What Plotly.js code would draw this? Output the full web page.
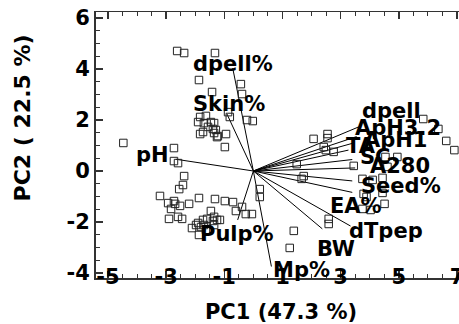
<!DOCTYPE html>
<html>
<head>
<meta charset="utf-8">
<script src="https://cdn.plot.ly/plotly-3.0.1.min.js"></script>
<style>
html,body{margin:0;padding:0;overflow:hidden;background:#fff;width:459px;height:324px;}
#chart{width:466px;height:324px;}
</style>
</head>
<body>
<div id="chart"></div>
<script>
// ---- Scores (observations) ----
const scoreX = [-2.62,-2.38,-1.32,-1.87,-0.43,-1.42,-0.39,-4.47,-2.73,-0.87,
  -0.81,-0.22,-0.02,-1.83,-1.63,-1.90,-1.70,-1.46,-1.35,-1.56,
  -1.39,-1.29,-1.73,-1.83,-1.35,-1.22,-0.94,-1.25,-0.98,-2.73,
  -2.59,-2.38,-2.42,-2.55,-3.21,-2.93,-2.73,-2.69,-2.83,-2.52,
  -2.21,-1.87,-2.90,-2.59,-2.45,-1.32,-0.98,-0.70,-0.60,-0.39,
  -0.26,-0.05,-1.46,-1.73,-1.59,-1.35,-1.25,-1.39,-1.90,-2.11,
  -1.97,-1.80,-1.87,-1.63,-1.15,-1.70,-1.35,0.22,0.22,2.07,
  2.55,2.55,2.42,2.49,2.76,5.84,6.36,6.63,6.91,4.54,
  4.95,1.49,3.45,4.61,1.73,1.66,3.75,4.10,4.44,3.79,
  3.89,4.44,4.51,3.75,4.03,2.59,2.59,1.39,1.25];
const scoreY = [4.71,4.63,4.63,3.57,3.41,3.10,3.02,1.10,0.90,2.31,
  2.12,2.00,1.96,2.12,2.16,1.92,1.88,1.92,1.88,1.73,
  1.65,1.61,1.53,1.45,1.49,1.37,1.45,1.33,0.94,0.39,
  0.31,-0.20,-0.55,-0.71,-0.98,-1.26,-1.18,-1.29,-1.49,-1.37,
  -1.29,-1.06,-1.88,-1.80,-1.88,-1.10,-1.18,-1.22,-1.57,-1.41,
  -1.69,-1.69,-1.57,-1.92,-1.88,-1.80,-1.92,-1.96,-2.04,-2.24,
  -2.12,-2.20,-2.51,-2.31,-1.92,-2.12,-2.12,-0.71,-1.02,1.26,
  1.45,1.29,0.94,0.82,0.75,2.04,1.65,1.18,0.82,0.55,
  0.55,0.27,0.20,0.16,-0.20,-0.31,-0.31,-0.35,-0.27,-0.90,
  -1.02,-0.86,-1.29,-1.49,-1.53,-1.88,-2.08,-2.35,-3.02];

// ---- Loadings (variables) ----
const varNames = ["dpell%","Skin%","pH","Pulp%","Mp%","BW","dTpep","EA%","Seed%","A280","SC","TA","ApH1","ApH3.2","dpell"];
const loadX = [-0.71,-0.91,-2.66,-0.54,0.62,2.37,3.34,3.40,3.40,3.50,3.40,3.27,3.45,3.55,3.62];
const loadY = [4.04,2.24,0.46,-1.92,-3.75,-2.27,-2.16,-0.84,-0.39,0.12,0.45,0.82,1.10,1.35,1.73];

// ---- Axis tick labels ----
const xTicks = [-5,-3,-1,1,3,5,7];
const yTicks = [-4,-2,0,2,4,6];

// label pixel offsets (style): [dx right, dy down]
const labelOffsets = [[0,-4],[2,-10],[-23,-4],[-1,14],[30,3],[14,20],[35,5],[4,14],[49,5],[45,-2],[23,-3],[13,-4],[42,-3],[41,-9],[33,-16]];

const segX = [], segY = [];
for (let i = 0; i < varNames.length; i++) {
  segX.push(0, loadX[i], null);
  segY.push(0, loadY[i], null);
}

const traces = [
  {type:'scatter', mode:'lines', x:segX, y:segY, hoverinfo:'skip',
   line:{color:'#000', width:1}, showlegend:false},
  {type:'scatter', mode:'markers', x:scoreX, y:scoreY,
   marker:{symbol:'square-open', size:7.5, color:'#222', line:{width:1, color:'#222'}},
   showlegend:false}
];

const lblFont = {family:'DejaVu Sans', size:21, color:'#000', weight:'bold'};
const annotations = varNames.map((n,i) => ({
  x: loadX[i], y: loadY[i], xref:'x', yref:'y', text:n, showarrow:false,
  xanchor:'center', yanchor:'middle',
  xshift: labelOffsets[i][0], yshift: -labelOffsets[i][1],
  font: lblFont
}));
annotations.push({
  text:'PC2 ( 22.5 %)', xref:'paper', yref:'paper', x:-0.2, y:0.6,
  xanchor:'center', yanchor:'middle', textangle:-90, showarrow:false,
  font:{family:'DejaVu Sans', size:22, color:'#000', weight:'bold'}
});

const tickFont = {family:'DejaVu Sans', size:21, color:'#000', weight:'bold'};
const layout = {
  width:466, height:324,
  margin:{l:96, r:0, t:12, b:46},
  paper_bgcolor:'#fff', plot_bgcolor:'#fff',
  showlegend:false,
  xaxis:{
    range:[-5.41, 7.31], showgrid:false, zeroline:false,
    showline:true, linecolor:'#333', linewidth:1.5, mirror:'ticks',
    ticks:'inside', ticklen:7, tickwidth:1.5, tickcolor:'#333',
    tickmode:'array', tickvals:xTicks, ticktext:xTicks.map(String),
    minor:{dtick:0.5, tick0:0, ticks:'inside', ticklen:4, tickwidth:1, tickcolor:'#333'},
    tickfont:tickFont, ticklabelstandoff:-21,
    title:{text:'PC1 (47.3 %)', font:{family:'DejaVu Sans', size:21, color:'#000', weight:'bold'}, standoff:16}
  },
  yaxis:{
    range:[-4.2, 6.24], showgrid:false, zeroline:false,
    showline:true, linecolor:'#333', linewidth:2, mirror:'ticks',
    ticks:'inside', ticklen:7, tickwidth:1.5, tickcolor:'#333',
    tickmode:'array', tickvals:yTicks, ticktext:yTicks.map(String),
    minor:{dtick:0.5, tick0:0, ticks:'inside', ticklen:4, tickwidth:1, tickcolor:'#333'},
    tickfont:tickFont, ticklabelstandoff:0
  },
  annotations:annotations
};

Plotly.newPlot('chart', traces, layout, {staticPlot:true, displayModeBar:false});
</script>
</body>
</html>
